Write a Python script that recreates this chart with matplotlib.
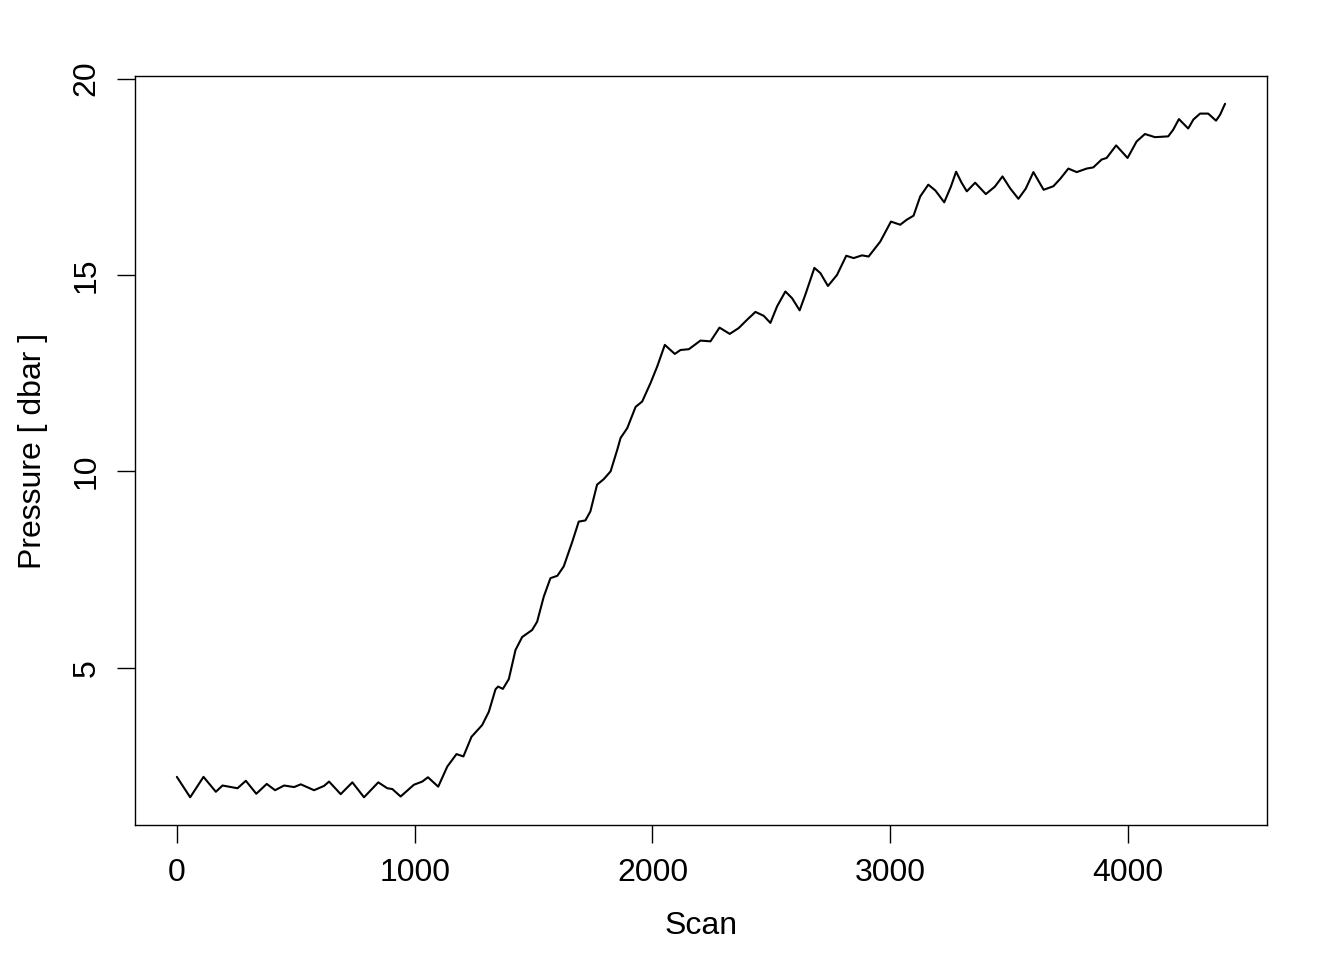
import matplotlib
matplotlib.use("Agg")
import matplotlib.pyplot as plt
import numpy as np

# scan numbers and pressure readings
scan = [0, 56, 112, 164, 192, 227, 255, 290, 334, 378, 413, 451, 493, 521, 577, 619,
        640, 689, 738, 787, 847, 885, 906, 941, 997, 1032, 1056, 1099, 1137, 1176,
        1205, 1239, 1284, 1312, 1340, 1351, 1371, 1396, 1424, 1452, 1494, 1515, 1543,
        1571, 1600, 1627, 1663, 1690, 1718, 1739, 1767, 1795, 1824, 1852, 1866, 1894,
        1929, 1957, 1992, 2020, 2052, 2094, 2118, 2153, 2202, 2244, 2282, 2325, 2363,
        2398, 2433, 2468, 2496, 2524, 2559, 2587, 2619, 2643, 2681, 2706, 2738, 2776,
        2815, 2846, 2881, 2909, 2958, 3003, 3042, 3070, 3098, 3126, 3160, 3190, 3227,
        3255, 3277, 3300, 3322, 3357, 3402, 3440, 3472, 3505, 3539, 3570, 3602, 3645,
        3686, 3715, 3749, 3784, 3826, 3854, 3889, 3910, 3950, 3998, 4036, 4071, 4113,
        4169, 4190, 4214, 4253, 4275, 4303, 4337, 4370, 4387, 4408]
pressure = [2.22, 1.70, 2.22, 1.84, 2.00, 1.96, 1.93, 2.12, 1.79, 2.04, 1.88, 2.00, 1.96,
            2.03, 1.88, 1.99, 2.10, 1.78, 2.08, 1.70, 2.08, 1.93, 1.91, 1.72, 2.02, 2.10,
            2.21, 1.97, 2.48, 2.80, 2.74, 3.24, 3.54, 3.88, 4.45, 4.52, 4.46, 4.71, 5.45,
            5.78, 5.96, 6.17, 6.81, 7.28, 7.34, 7.58, 8.21, 8.72, 8.75, 8.98, 9.66, 9.80,
            10.00, 10.55, 10.85, 11.10, 11.64, 11.78, 12.25, 12.67, 13.22, 12.99, 13.09,
            13.11, 13.33, 13.31, 13.66, 13.50, 13.65, 13.86, 14.06, 13.96, 13.78, 14.20,
            14.58, 14.41, 14.10, 14.50, 15.18, 15.05, 14.72, 15.00, 15.49, 15.43, 15.50,
            15.47, 15.85, 16.36, 16.28, 16.41, 16.51, 17.00, 17.30, 17.15, 16.85, 17.25,
            17.63, 17.35, 17.13, 17.35, 17.06, 17.25, 17.51, 17.20, 16.94, 17.20, 17.62,
            17.17, 17.26, 17.45, 17.71, 17.62, 17.71, 17.74, 17.94, 17.98, 18.30, 17.98,
            18.40, 18.59, 18.51, 18.53, 18.70, 18.97, 18.73, 18.96, 19.11, 19.11, 18.93,
            19.08, 19.36]

xticks = [0, 1000, 2000, 3000, 4000]
yticks = [5, 10, 15, 20]

plt.rcParams['font.family'] = ['Liberation Sans', 'DejaVu Sans']

fig = plt.figure(figsize=(13.44, 9.6), dpi=100)
ax = fig.add_axes([0.1004, 0.1406, 0.8423, 0.7802])

ax.plot(scan, pressure, color='black', linewidth=1.5,
        solid_joinstyle='round', solid_capstyle='round')

# R style 4% axis padding
xr = max(scan) - min(scan)
yr = max(pressure) - min(pressure)
ax.set_xlim(min(scan) - 0.04 * xr, max(scan) + 0.04 * xr)
ax.set_ylim(min(pressure) - 0.04 * yr, max(pressure) + 0.04 * yr)

ax.set_xticks(xticks)
ax.set_xticklabels([str(t) for t in xticks])
ax.set_yticks(yticks)
ax.set_yticklabels([str(t) for t in yticks], rotation=90, va='center')
ax.tick_params(axis='both', direction='out', length=13, width=1.0,
               labelsize=23, pad=11, color='black')

for s in ax.spines.values():
    s.set_linewidth(1.0)

ax.set_xlabel('Scan', fontsize=23, labelpad=16)
ax.set_ylabel('Pressure [ dbar ]', fontsize=23, labelpad=17)

fig.savefig('out.png', dpi=100, facecolor='white')
